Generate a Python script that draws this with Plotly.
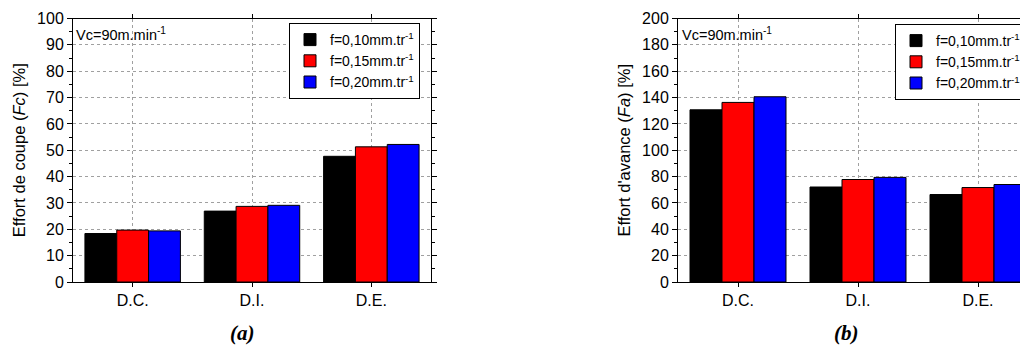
import plotly.graph_objects as go

categories = ["D.C.", "D.I.", "D.E."]
series_names = ["f=0,10mm.tr<sup>-1</sup>", "f=0,15mm.tr<sup>-1</sup>", "f=0,20mm.tr<sup>-1</sup>"]
colors = ["#000000", "#FF0000", "#0000FF"]

fc_values = [
    [18.4, 26.9, 47.7],   # f=0,10
    [19.7, 28.7, 51.3],   # f=0,15
    [19.4, 29.1, 52.2],   # f=0,20
]
fa_values = [
    [130.7, 72.1, 66.4],
    [136.3, 77.8, 71.7],
    [140.6, 79.4, 74.0],
]

# page body has an 8px margin: figure starts at (8, 8) in the window
OFF = 8
W, H = 1028 - OFF, 346 - OFF
SANS = "Arial, Liberation Sans, sans-serif"
SERIF = "Times New Roman, Liberation Serif, serif"

def px(x):
    return (x - OFF) / W

def py(y):
    return (H - (y - OFF)) / H

fig = go.Figure()

for i, name in enumerate(series_names):
    fig.add_trace(go.Bar(x=categories, y=fc_values[i], name=name,
                         marker=dict(color=colors[i], line=dict(color="#000000", width=1)),
                         xaxis="x", yaxis="y", legend="legend"))
for i, name in enumerate(series_names):
    fig.add_trace(go.Bar(x=categories, y=fa_values[i], name=name,
                         marker=dict(color=colors[i], line=dict(color="#000000", width=1)),
                         xaxis="x2", yaxis="y2", legend="legend2"))

ydom = [py(282), py(18.5)]
xdom1 = [px(73), px(431)]
xdom2 = [px(678), 1.0]
xr1 = [-0.5, 2.5]
xr2 = [-0.5, -0.5 + (1028 - 678) / 120]

def xaxis(dom, rng, anchor):
    return dict(domain=dom, range=rng, anchor=anchor, type="category", automargin=False,
                categoryorder="array", categoryarray=categories,
                showline=True, linecolor="#000000", linewidth=1, mirror="ticks",
                ticks="outside", ticklen=4, tickcolor="#000000",
                showgrid=True, gridcolor="#A0A0A0", griddash="dot", gridwidth=1,
                tickfont=dict(family=SANS, size=16, color="#000000"), zeroline=False)

def bxaxis(dom, rng, anchor, over):
    return dict(domain=dom, range=rng, anchor=anchor, overlaying=over, automargin=False,
                tickvals=[0.5, 1.5, 2.5], showticklabels=False, showline=False,
                ticks="outside", ticklen=4, tickcolor="#000000", mirror="ticks",
                showgrid=False, zeroline=False)

def yaxis(dom, rng, dt, anchor, title):
    return dict(domain=dom, range=rng, anchor=anchor, dtick=dt, automargin=False,
                showline=True, linecolor="#000000", linewidth=1, mirror="ticks",
                ticks="outside", ticklen=5, tickcolor="#000000",
                minor=dict(ticks="outside", ticklen=3, dtick=dt / 2, tickcolor="#000000", showgrid=False),
                showgrid=True, gridcolor="#A0A0A0", griddash="dot", gridwidth=1,
                tickfont=dict(family=SANS, size=16, color="#000000"), zeroline=False,
                title=dict(text=title, font=dict(family=SANS, size=16.5, color="#000000"), standoff=7))

fig.update_layout(
    width=W, height=H,
    margin=dict(l=0, r=0, t=0, b=0, pad=0, autoexpand=False),
    paper_bgcolor="white", plot_bgcolor="white",
    barmode="group", bargap=0.2, bargroupgap=0,
    xaxis=xaxis(xdom1, xr1, "y"),
    xaxis3=bxaxis(xdom1, xr1, "y", "x"),
    yaxis=yaxis(ydom, [0, 100], 10, "x", "Effort de coupe (<i>Fc</i>) [%]"),
    xaxis2=xaxis(xdom2, xr2, "y2"),
    xaxis4=bxaxis(xdom2, xr2, "y2", "x2"),
    yaxis2=yaxis(ydom, [0, 200], 20, "x2", "Effort d'avance (<i>Fa</i>) [%]"),
    legend=dict(x=px(289), y=py(23), xanchor="left", yanchor="top",
                bordercolor="#000000", borderwidth=1, bgcolor="white",
                font=dict(family=SANS, size=14, color="#000000"), tracegroupgap=0),
    legend2=dict(x=px(895), y=py(24), xanchor="left", yanchor="top",
                 bordercolor="#000000", borderwidth=1, bgcolor="white",
                 font=dict(family=SANS, size=14, color="#000000"), tracegroupgap=0),
    annotations=[
        dict(text="Vc=90m.min<sup>-1</sup>", x=px(74), y=py(34), xref="paper", yref="paper",
             xanchor="left", yanchor="middle", showarrow=False,
             font=dict(family=SANS, size=14.5, color="#000000")),
        dict(text="Vc=90m.min<sup>-1</sup>", x=px(680), y=py(34), xref="paper", yref="paper",
             xanchor="left", yanchor="middle", showarrow=False,
             font=dict(family=SANS, size=14.5, color="#000000")),
        dict(text="<b><i>(a)</i></b>", x=px(242), y=py(333), xref="paper", yref="paper",
             xanchor="center", yanchor="middle", showarrow=False,
             font=dict(family=SERIF, size=21, color="#000000")),
        dict(text="<b><i>(b)</i></b>", x=px(846), y=py(333), xref="paper", yref="paper",
             xanchor="center", yanchor="middle", showarrow=False,
             font=dict(family=SERIF, size=21, color="#000000")),
    ],
)

fig.write_html("out.html")
